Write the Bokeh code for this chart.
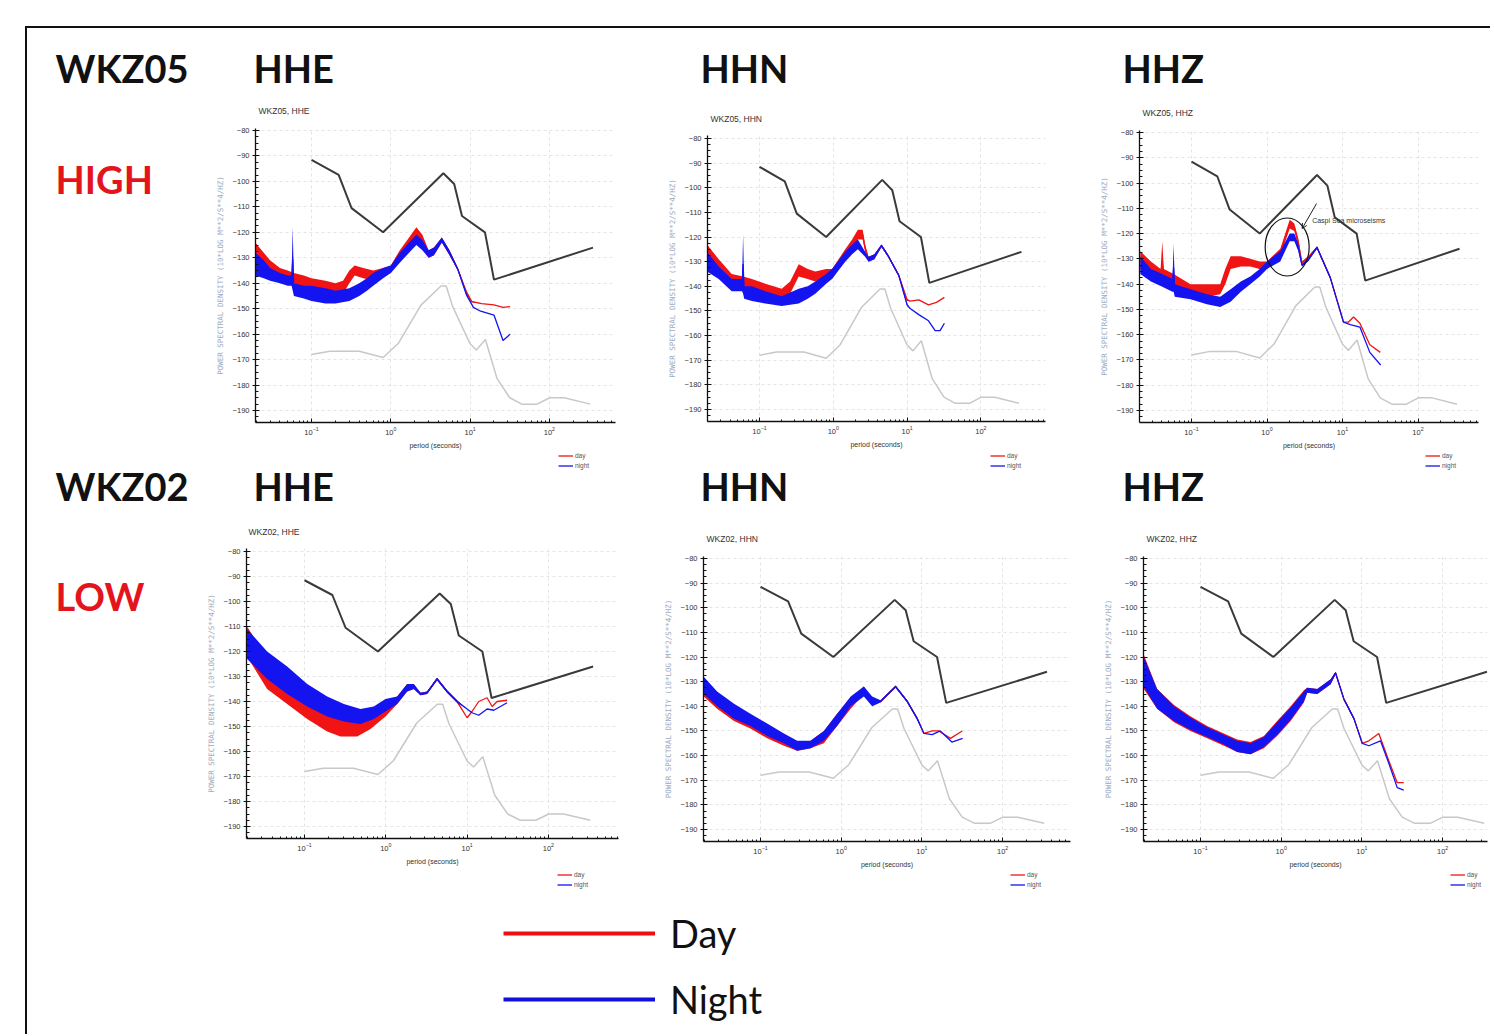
import numpy as np
from bokeh.plotting import figure
from bokeh.models import (Range1d, FixedTicker, Label, Legend, LegendItem, Arrow, OpenHead)
from bokeh.layouts import row, column
from bokeh.embed import file_html
from bokeh.resources import INLINE

# ---------------- DATA ----------------
# Peterson noise models (period s, dB)
nhnm_T = [0.1, 0.22, 0.32, 0.8, 4.6, 6.3, 7.9, 15.4, 20, 354.8]
nhnm_db = [-91.5, -97.4, -110.5, -120, -96.8, -101, -113.6, -120, -138.6, -126]
nlnm_T = [0.1, 0.17, 0.4, 0.8, 1.24, 2.4, 4.3, 5.0, 6.0, 10, 12, 15.6, 21.9, 31.6, 45, 70, 101, 154, 328]
nlnm_db = [-168, -166.7, -166.7, -169.2, -163.7, -148.6, -141.1, -141.1, -149, -163.8, -166.2,
           -162.1, -177.5, -185, -187.5, -187.5, -185, -185, -187.5]

stations = ["WKZ05", "WKZ02"]
levels = ["HIGH", "LOW"]
channels = ["HHE", "HHN", "HHZ"]
legend_labels = ["Day", "Night"]
key_labels = ["day", "night"]

# WKZ05 HHE
p1_day_T = [0.0195, 0.025, 0.03, 0.04, 0.05, 0.06, 0.08, 0.1, 0.15, 0.2, 0.25, 0.3, 0.35, 0.45, 0.6, 0.8, 1.0, 1.3, 1.7, 2.1, 2.5, 3.0, 3.5, 4.4, 5.5, 7.0, 9.0, 10.5, 14, 20, 26, 32]
p1_day_lo = [-133, -135, -137, -139, -140, -140, -142, -143, -144, -145, -144, -140, -137, -138, -139, -137, -136, -131, -126, -123, -126, -130, -129, -124, -129, -135, -144, -147.5, -148, -148.5, -149.5, -149.2]
p1_day_hi = [-124, -128, -131, -134, -135, -136, -137, -138, -139, -140, -139, -135, -133, -134, -135, -134, -133, -127, -122, -118, -121, -127, -126, -122, -127, -134, -143, -147, -148, -148.5, -149.5, -149.2]
p1_night_T = [0.0195, 0.025, 0.03, 0.04, 0.05, 0.056, 0.058, 0.06, 0.08, 0.1, 0.15, 0.2, 0.3, 0.4, 0.5, 0.6, 0.8, 1.0, 1.3, 1.7, 2.1, 2.5, 3.0, 3.5, 4.4, 5.5, 7.0, 9.0, 11, 13.6, 20, 26, 32]
p1_night_lo = [-137, -138, -139, -140, -141, -141, -143, -145, -146, -147, -148, -148, -147, -145, -143, -141, -138, -136, -132, -128, -125, -127, -130, -129, -124, -129, -135, -145, -149.5, -151, -152.5, -162.5, -160]
p1_night_hi = [-128, -131, -134, -136, -137, -137, -118, -140, -141, -141, -142, -143, -142, -140, -138, -136, -134, -133, -128, -124, -121, -123, -127, -126, -122, -127, -134, -144, -149.5, -151, -152.5, -162.5, -160]

# WKZ05 HHN
p2_day_T = [0.0194, 0.028, 0.042, 0.06, 0.079, 0.12, 0.2, 0.26, 0.34, 0.45, 0.57, 0.8, 0.96, 1.45, 1.8, 2.15, 2.5, 2.7, 3.0, 3.6, 4.5, 5.5, 7.7, 10, 11, 14.4, 19.5, 25, 32]
p2_day_lo = [-130, -134, -140, -141, -143, -144, -146, -143, -136, -137, -138, -136, -137, -129, -125, -121, -121, -126, -130, -129, -124, -128, -136, -146, -146, -145.5, -147.5, -146.5, -144.5]
p2_day_hi = [-123, -129, -135, -136, -137, -139, -141, -138, -131, -133, -134, -133, -133, -125, -121, -117, -117, -123, -128, -127, -123, -127, -135, -145, -146, -145.5, -147.5, -146.5, -144.5]
p2_night_T = [0.0194, 0.028, 0.042, 0.058, 0.06, 0.062, 0.079, 0.12, 0.2, 0.34, 0.45, 0.57, 0.8, 0.96, 1.45, 1.8, 2.15, 2.7, 3.0, 3.6, 4.5, 5.5, 7.7, 10, 11, 14.4, 19.5, 24, 28, 32]
p2_night_lo = [-134, -137, -142, -142, -143, -145, -146, -147, -148, -147, -145, -143, -139, -137, -130, -127, -125, -128, -130, -129, -124, -128, -136, -148, -149, -151.5, -154, -158, -158, -155]
p2_night_hi = [-126, -132, -137, -137, -119, -140, -140, -142, -144, -141, -140, -138, -135, -133, -126, -123, -121, -126, -128, -127, -123, -127, -135, -147, -149, -151.5, -154, -158, -158, -155]

# WKZ05 HHZ
p3_day_T = [0.021, 0.029, 0.039, 0.041, 0.043, 0.058, 0.097, 0.16, 0.24, 0.28, 0.33, 0.45, 0.6, 0.8, 1.0, 1.5, 2.0, 2.3, 2.6, 2.9, 3.5, 4.6, 6.9, 10.3, 12, 14, 17, 23, 31.7]
p3_day_lo = [-134, -137, -139, -139, -139, -140, -144, -145, -144, -140, -134, -133, -133, -134, -134, -129, -118, -119, -125, -132, -130, -126, -138, -155, -155, -153, -155.5, -164, -167]
p3_day_hi = [-127, -131, -134, -123, -134, -136, -140, -140, -140, -134, -129, -129, -130, -131, -131, -126, -114.5, -116, -122, -131, -129, -125, -137, -155, -155, -153, -155.5, -164, -167]
p3_night_T = [0.021, 0.029, 0.041, 0.056, 0.058, 0.06, 0.097, 0.16, 0.24, 0.33, 0.45, 0.6, 0.8, 1.0, 1.5, 2.0, 2.3, 2.6, 2.9, 3.5, 4.6, 6.9, 10.3, 12.7, 17, 23, 32]
p3_night_lo = [-136, -139, -141, -143, -143, -145, -146, -148, -149, -147, -143, -140, -137, -134, -131, -123, -123, -127, -133, -131, -126, -138, -155, -156, -157, -167, -172]
p3_night_hi = [-129, -134, -136, -138, -124, -140, -142, -144, -145, -142, -139, -137, -134, -131, -127, -120, -120, -124, -132, -130, -125, -137, -155, -156, -157, -167, -172]

# WKZ02 HHE
p4_day_T = [0.0197, 0.0347, 0.0612, 0.108, 0.19, 0.277, 0.445, 0.648, 0.99, 1.38, 1.83, 2.21, 2.67, 3.22, 4.27, 5.68, 7.53, 10, 11.5, 13.9, 17.6, 20.3, 23.4, 31]
p4_day_lo = [-122, -135, -141, -147, -152, -154, -154, -151, -146, -141, -136, -135, -137.5, -137, -131.5, -136.5, -140.5, -146.5, -144, -140, -138.5, -142, -140, -139.5]
p4_day_hi = [-110, -123, -128, -134, -140, -143, -145, -144, -141, -138, -133, -133, -136.5, -136, -130.5, -135.5, -139.5, -146.5, -144, -140, -138.5, -142, -140, -139.5]
p4_night_T = [0.0197, 0.0347, 0.0612, 0.108, 0.19, 0.305, 0.489, 0.711, 0.99, 1.38, 1.83, 2.21, 2.67, 3.22, 4.27, 5.68, 7.53, 10, 11.5, 13.9, 17.6, 21.3, 31]
p4_night_lo = [-123, -131, -137, -142, -146, -148, -149, -147, -144, -141, -136, -135, -137.5, -137, -131.5, -136.5, -140.5, -143, -144.5, -145.5, -143, -143.5, -140.5]
p4_night_hi = [-111, -120, -126, -133, -138, -141, -143, -142, -139, -138, -133, -133, -136.5, -136, -130.5, -135.5, -139.5, -143, -144.5, -145.5, -143, -143.5, -140.5]

# WKZ02 HHN
p5_day_T = [0.0198, 0.029, 0.047, 0.075, 0.121, 0.195, 0.285, 0.417, 0.61, 0.89, 1.31, 1.91, 2.42, 3.07, 4.72, 6.58, 8.75, 10.6, 13.4, 16.2, 22.6, 31.6]
p5_day_lo = [-136, -141, -146, -149, -153, -156, -158, -157, -155, -148, -141, -135, -139, -138.5, -132.5, -138.5, -145.5, -151, -150, -150, -153, -150]
p5_day_hi = [-130, -135, -140, -144, -148, -152, -155, -154, -150, -143, -137, -132, -137, -137.5, -131.5, -137.5, -144.5, -151, -150, -150, -153, -150]
p5_night_T = [0.0198, 0.029, 0.047, 0.075, 0.121, 0.195, 0.285, 0.417, 0.61, 0.89, 1.31, 1.91, 2.42, 3.07, 4.72, 6.58, 8.75, 10.6, 13.4, 16.9, 23.5, 32]
p5_night_lo = [-135, -140, -145, -148, -152, -155, -158, -157, -154, -148, -140, -136, -140, -138.5, -132.5, -138.5, -145.5, -151, -151.5, -150, -154.5, -153]
p5_night_hi = [-128, -134, -139, -143, -147, -151, -154, -154, -150, -143, -136, -132, -136, -137.5, -131.5, -137.5, -144.5, -151, -151.5, -150, -154.5, -153]

# WKZ02 HHZ
p6_day_T = [0.0198, 0.029, 0.047, 0.075, 0.121, 0.195, 0.285, 0.417, 0.61, 0.89, 1.31, 1.91, 2.1, 2.8, 4.1, 4.72, 5.97, 7.97, 10.1, 12.2, 16.2, 21.5, 27.4, 33]
p6_day_lo = [-133, -141, -146.5, -150, -153, -156, -158.5, -159.5, -157, -152, -146, -138.5, -134.5, -135, -131, -127, -137.5, -145.5, -155, -154, -151, -162, -171, -171]
p6_day_hi = [-119, -133, -139.5, -144, -148, -151, -153.5, -154.5, -152, -146, -140, -133.5, -132.5, -133, -129, -126, -136.5, -144.5, -155, -154, -151, -162, -171, -171]
p6_night_T = [0.0198, 0.029, 0.047, 0.075, 0.121, 0.195, 0.285, 0.417, 0.61, 0.89, 1.31, 1.91, 2.1, 2.8, 4.1, 4.72, 5.97, 7.97, 10.1, 12.2, 17, 21.5, 27.4, 33]
p6_night_lo = [-132, -141, -146, -149.5, -152.5, -155.5, -158.5, -159.5, -156.5, -151.5, -145.5, -138, -134.5, -135, -131, -127, -137.5, -145.5, -155, -156, -154, -163, -173, -174]
p6_night_hi = [-120, -133, -140, -144.5, -148.5, -151.5, -154, -155, -152.5, -146.5, -140.5, -134, -132.5, -133, -129, -126, -136.5, -144.5, -155, -156, -154, -163, -173, -174]

x_major = [0.1, 1, 10, 100]
y_major = list(range(-190, -79, 10))

# ---------------- STYLE ----------------
RED = "#f01414"
BLUE = "#1414f0"
LABEL_RED = "#e3141c"
BIG_FONT = "Lato"
SMALL_FONT = "Liberation Sans"
ORIGIN_X, ORIGIN_Y = 27, 28      # inside the black frame line
PAGE_R = 1490

x_minor = [m * 10.0 ** e for e in range(-2, 3) for m in range(2, 10)]
y_minor = [float(v) for v in np.arange(-195, -77.4, 2.5) if v % 10 != 0]


def canvas_fig(x0, y0, x1, y1):
    """A blank figure whose data units are page pixels (y downward)."""
    p = figure(width=int(x1 - x0), height=int(y1 - y0), x_range=Range1d(x0, x1),
               y_range=Range1d(y1, y0), output_backend="svg", toolbar_location=None,
               title=None, min_border=0, x_axis_location=None, y_axis_location=None)
    p.grid.visible = False
    p.outline_line_color = None
    p.background_fill_color = "white"
    p.border_fill_color = "white"
    return p


def text(p, x, y, txt, size, color="#111", bold=False, font=BIG_FONT):
    p.add_layout(Label(x=x, y=y, text=txt, text_font=font, text_font_size=size,
                       text_color=color, text_font_style="bold" if bold else "normal",
                       text_baseline="middle"))


def add_key(p, fig_x0, fig_bottom, kx, ktop):
    rd = p.line(x=[-60, -50], y=[-60, -50], line_color=RED, line_width=1.3)
    rn = p.line(x=[-60, -50], y=[-60, -50], line_color=BLUE, line_width=1.3)
    leg = Legend(items=[LegendItem(label=key_labels[0], renderers=[rd]),
                        LegendItem(label=key_labels[1], renderers=[rn])],
                 location=(kx - fig_x0, fig_bottom - (ktop + 19)), orientation="vertical",
                 glyph_width=15, glyph_height=9, label_height=9, label_width=10,
                 spacing=1, padding=0, margin=0, label_standoff=2,
                 label_text_font=SMALL_FONT, label_text_font_size="6.5px",
                 label_text_color="#555", background_fill_alpha=0, border_line_color=None)
    p.add_layout(leg)


def make_panel(geo, data):
    fx, fy, fw, fb, L, R, T, B, x10, dec, y80, y190 = geo
    ppd = (y190 - y80) / 110.0
    ytop = -80 + (y80 - T) / ppd
    ybot = -80 - (B - y80) / ppd
    x0 = 10 ** (-1 - (x10 - L) / dec)
    x1 = 10 ** (-1 + (R - x10) / dec)
    p = figure(frame_width=R - L, frame_height=B - T, x_axis_type="log",
               x_range=Range1d(x0, x1), y_range=Range1d(ybot, ytop), output_backend="svg",
               toolbar_location=None, title=None, min_border_left=L - fx,
               min_border_right=fx + fw - R, min_border_top=T - fy,
               min_border_bottom=fb - B)
    p.outline_line_color = None
    p.background_fill_color = "white"
    p.border_fill_color = "white"

    p.xaxis.ticker = FixedTicker(ticks=x_major, minor_ticks=x_minor)
    p.yaxis.ticker = FixedTicker(ticks=y_major, minor_ticks=y_minor)
    for ax in (p.xaxis, p.yaxis):
        ax.axis_line_color = "#111"
        ax.axis_line_width = 1.3
        ax.major_tick_line_color = "#111"
        ax.minor_tick_line_color = "#111"
        ax.major_label_text_font = SMALL_FONT
        ax.major_label_text_font_size = "7.5px"
        ax.major_label_text_color = "#333"
    p.xaxis.major_tick_in = 4
    p.xaxis.major_tick_out = 0
    p.xaxis.minor_tick_in = 2
    p.xaxis.minor_tick_out = 0
    p.xaxis.major_label_standoff = 4
    p.yaxis.major_tick_in = 4
    p.yaxis.major_tick_out = 3
    p.yaxis.minor_tick_in = 3
    p.yaxis.minor_tick_out = 0
    p.yaxis.major_label_standoff = 3
    p.xaxis.axis_label = "period (seconds)"
    p.xaxis.axis_label_text_font = SMALL_FONT
    p.xaxis.axis_label_text_font_size = "7px"
    p.xaxis.axis_label_text_font_style = "normal"
    p.xaxis.axis_label_text_color = "#333"
    p.xaxis.axis_label_standoff = 4
    p.yaxis.axis_label = "POWER SPECTRAL DENSITY (10*LOG M**2/S**4/HZ)"
    p.yaxis.axis_label_text_font = "DejaVu Sans Mono"
    p.yaxis.axis_label_text_font_size = "7.5px"
    p.yaxis.axis_label_text_font_style = "normal"
    p.yaxis.axis_label_text_color = "#9eacbf"
    p.yaxis.axis_label_standoff = 5
    p.grid.grid_line_color = "#e4e4e4"
    p.grid.grid_line_dash = "3 3"

    p.line(nhnm_T, nhnm_db, line_color="#3a3a3a", line_width=2)
    p.line(nlnm_T, nlnm_db, line_color="#c8c8c8", line_width=1.5)

    (dT, dlo, dhi), (nT, nlo, nhi) = data
    for Tv, lo, hi, col in ((dT, dlo, dhi, RED), (nT, nlo, nhi, BLUE)):
        lo = np.array(lo, float)
        hi = np.array(hi, float)
        p.varea(x=Tv, y1=lo, y2=hi, fill_color=col)
        p.line(Tv, (lo + hi) / 2, line_color=col, line_width=1.3)
    return p


ROW1_TOP, ROW1_BOT = 124, 451
ROW2_TOP, ROW2_BOT = 543, 870
PAGE_BOT = 1034

# geometry: fig x, top, w, bottom, frame L, R, T, B, x(10^-1), px/decade, y(-80), y(-190)
geos = [
    (200, ROW1_TOP, 450, ROW1_BOT, 255, 615, 128, 422, 311, 79.3, 130, 410),
    (650, ROW1_TOP, 440, ROW1_BOT, 707, 1045, 135, 421, 759, 73.8, 138, 409),
    (1090, ROW1_TOP, 400, ROW1_BOT, 1139, 1478, 130, 422, 1191, 75.5, 132, 410),
    (200, ROW2_TOP, 450, ROW2_BOT, 246, 618, 548, 838, 304, 81.3, 551, 826),
    (650, ROW2_TOP, 440, ROW2_BOT, 703, 1070, 556, 841, 760, 80.7, 558, 829),
    (1090, ROW2_TOP, 400, ROW2_BOT, 1143, 1487, 556, 841, 1200, 80.7, 558, 829),
]
key_pos = [(558, ROW1_BOT), (990, ROW1_BOT), (1425, ROW1_BOT),
           (557, ROW2_BOT), (1010, ROW2_BOT), (1450, ROW2_BOT)]
datas = [
    ((p1_day_T, p1_day_lo, p1_day_hi), (p1_night_T, p1_night_lo, p1_night_hi)),
    ((p2_day_T, p2_day_lo, p2_day_hi), (p2_night_T, p2_night_lo, p2_night_hi)),
    ((p3_day_T, p3_day_lo, p3_day_hi), (p3_night_T, p3_night_lo, p3_night_hi)),
    ((p4_day_T, p4_day_lo, p4_day_hi), (p4_night_T, p4_night_lo, p4_night_hi)),
    ((p5_day_T, p5_day_lo, p5_day_hi), (p5_night_T, p5_night_lo, p5_night_hi)),
    ((p6_day_T, p6_day_lo, p6_day_hi), (p6_night_T, p6_night_lo, p6_night_hi)),
]
title_pos = [(258, 110), (710, 118), (1142, 112), (248, 531), (706, 538), (1146, 538)]
panels = [make_panel(geos[i], datas[i]) for i in range(6)]

# annotation in WKZ05 HHZ
pz = panels[2]
pz.ellipse(x=[1.85], y=[-125.3], width=44, height=58, width_units="screen",
           height_units="screen", fill_color=None, line_color="#111", line_width=1.2)
pz.add_layout(Arrow(end=OpenHead(size=5, line_color="#222", line_width=1),
                    x_start=4.53, y_start=-108.1, x_end=2.92, y_end=-118,
                    line_color="#222", line_width=1))
pz.add_layout(Label(x=3.96, y=-114.7, text="Caspi Sea microseisms", text_font=SMALL_FONT,
                    text_font_size="7px", text_color="#333", text_baseline="middle"))

# heading strips
head_x = [253, 700, 1122]
strip_box = [(ORIGIN_Y, ROW1_TOP), (ROW1_BOT, ROW2_TOP)]
row_mid = [67, 485]
level_mid = [178, 595]
left_box = [(ROW1_TOP, ROW1_BOT), (ROW2_TOP, ROW2_BOT)]

strips, lefts = [], []
for r in range(2):
    y0, y1 = strip_box[r]
    s = canvas_fig(ORIGIN_X, y0, PAGE_R, y1)
    if r == 1:
        for c in range(3):
            add_key(s, ORIGIN_X, y1, *key_pos[c])
    text(s, 55, row_mid[r], stations[r], "38px", bold=True)
    for c in range(3):
        text(s, head_x[c], row_mid[r], channels[c], "38px", bold=True)
        tx, ty = title_pos[3 * r + c]
        text(s, tx, ty, f"{stations[r]},  {channels[c]}", "8.5px", color="#333",
             font=SMALL_FONT)
    strips.append(s)

    ly0, ly1 = left_box[r]
    lf = canvas_fig(ORIGIN_X, ly0, 200, ly1)
    text(lf, 55, level_mid[r], levels[r], "38px", color=LABEL_RED, bold=True)
    lefts.append(lf)

# bottom strip: row-2 keys and the big legend
lg = canvas_fig(ORIGIN_X, ROW2_BOT, PAGE_R, PAGE_BOT)
for c in range(3):
    add_key(lg, ORIGIN_X, PAGE_BOT, *key_pos[3 + c])
rd = lg.line(x=[-60, -50], y=[-60, -50], line_color="#ee1010", line_width=4)
rn = lg.line(x=[-60, -50], y=[-60, -50], line_color="#1010dd", line_width=4)
big_leg = Legend(items=[LegendItem(label=legend_labels[0], renderers=[rd]),
                        LegendItem(label=legend_labels[1], renderers=[rn])],
                 location=(503 - ORIGIN_X, PAGE_BOT - 1022), orientation="vertical",
                 glyph_width=152, glyph_height=40, label_height=40, spacing=20, padding=0,
                 margin=0, label_standoff=15, label_text_font=BIG_FONT,
                 label_text_font_size="38px", label_text_color="#111",
                 background_fill_alpha=0, border_line_color=None)
lg.add_layout(big_leg)

rows = []
for r in range(2):
    kids = [lefts[r]] + [column(panels[3 * r + c]) for c in range(3)]
    rows.append(row(*kids))

page = column(strips[0], rows[0], strips[1], rows[1], lg,
              styles={"margin-left": "25px", "margin-top": "26px",
                      "border-left": "2px solid #111", "border-top": "2px solid #111"})

open("out.html", "w").write(file_html(page, INLINE))
